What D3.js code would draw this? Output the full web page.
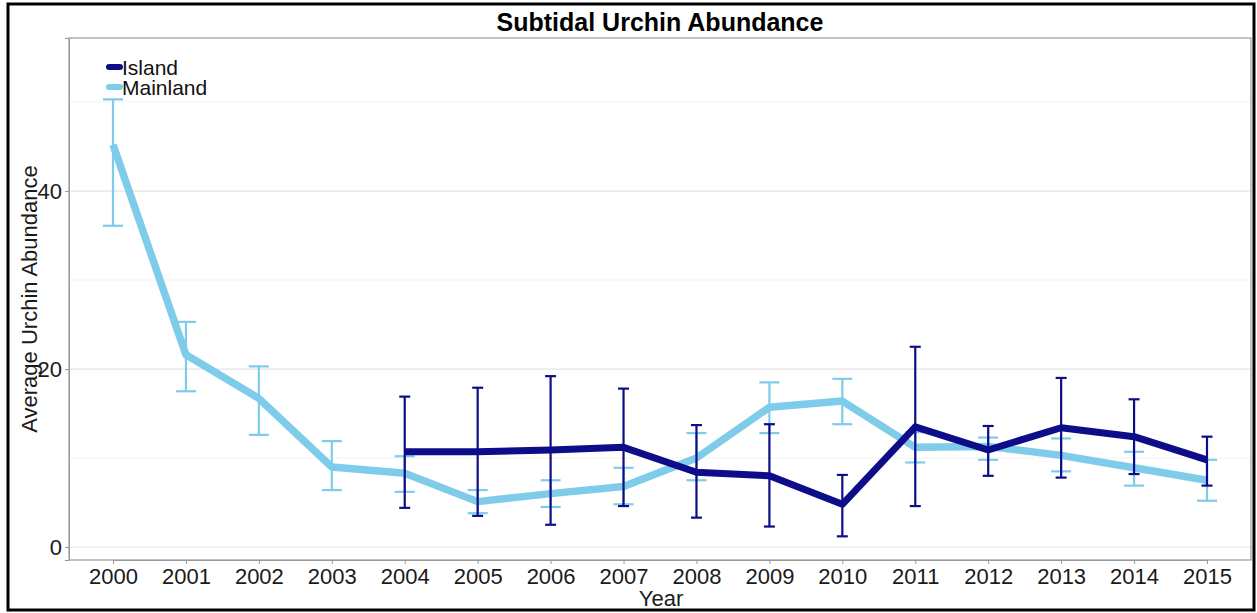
<!DOCTYPE html>
<html>
<head>
<meta charset="utf-8">
<script src="https://cdn.jsdelivr.net/npm/d3@7"></script>
<style>
  body { margin: 0; background: #fff; }
  svg { display: block; font-family: Arial, "Liberation Sans", sans-serif; }
</style>
</head>
<body>
<svg width="1257" height="613"></svg>
<script>
// data
var years = [2000, 2001, 2002, 2003, 2004, 2005, 2006, 2007, 2008, 2009, 2010, 2011, 2012, 2013, 2014, 2015];
var islandYears = [2004, 2005, 2006, 2007, 2008, 2009, 2010, 2011, 2012, 2013, 2014, 2015];
var islandMean  = [10.7, 10.7, 10.9, 11.2, 8.4, 8.0, 4.8, 13.5, 10.9, 13.4, 12.4, 9.8];
var islandLow   = [4.4, 3.5, 2.5, 4.6, 3.3, 2.3, 1.2, 4.6, 8.0, 7.8, 8.2, 6.9];
var islandHigh  = [16.9, 17.9, 19.2, 17.8, 13.7, 13.8, 8.1, 22.5, 13.6, 19.0, 16.6, 12.4];
var mainlandMean = [45.2, 21.6, 16.7, 9.0, 8.3, 5.1, 6.0, 6.8, 10.0, 15.7, 16.4, 11.2, 11.3, 10.3, 8.9, 7.5];
var mainlandLow  = [36.1, 17.5, 12.6, 6.4, 6.2, 3.8, 4.5, 4.8, 7.5, 12.8, 13.8, 9.5, 9.8, 8.5, 6.9, 5.2];
var mainlandHigh = [50.3, 25.3, 20.3, 11.9, 10.2, 6.4, 7.5, 8.9, 12.8, 18.5, 18.9, 12.9, 12.3, 12.2, 10.7, 9.8];
var yTicks = [0, 20, 40];
var yMinor = [10, 30, 50];

var islandColor = '#0d0d8a';
var mainlandColor = '#7fcbea';

var svg = d3.select('svg');

var pLeft = 69, pRight = 1251, pTop = 38, pBottom = 560;

var x = d3.scalePoint().domain(years).range([113, 1207]);
var y = d3.scaleLinear().domain([-1.46, 57.2]).range([pBottom, pTop]);

// outer frame
svg.append('rect')
  .attr('x', 8).attr('y', 4).attr('width', 1246).attr('height', 606)
  .attr('fill', 'none').attr('stroke', '#000').attr('stroke-width', 3);

// gridlines
svg.selectAll('.minor').data(yMinor).enter().append('line')
  .attr('x1', pLeft).attr('x2', pRight)
  .attr('y1', d => y(d)).attr('y2', d => y(d))
  .attr('stroke', '#f3f3f3').attr('stroke-width', 1);
svg.selectAll('.major').data(yTicks).enter().append('line')
  .attr('x1', pLeft).attr('x2', pRight)
  .attr('y1', d => y(d)).attr('y2', d => y(d))
  .attr('stroke', '#e4e4e4').attr('stroke-width', 1.2);

// panel border
svg.append('rect')
  .attr('x', pLeft).attr('y', pTop).attr('width', pRight - pLeft).attr('height', pBottom - pTop)
  .attr('fill', 'none').attr('stroke', '#9a9a9a').attr('stroke-width', 1.2);

// axes
var xAxis = svg.append('g').attr('transform', 'translate(0,' + pBottom + ')')
  .call(d3.axisBottom(x).tickSize(4).tickPadding(4));
var yAxis = svg.append('g').attr('transform', 'translate(' + pLeft + ',0)')
  .call(d3.axisLeft(y).tickValues(yTicks).tickSize(4).tickPadding(3));
[xAxis, yAxis].forEach(function(a) {
  a.select('.domain').attr('stroke', '#9a9a9a');
  a.selectAll('.tick line').attr('stroke', '#9a9a9a');
  a.selectAll('.tick text').attr('fill', '#1a1a1a').style('font-size', '22px')
    .style('font-family', 'Arial, "Liberation Sans", sans-serif');
});

// lines
var island = islandYears.map((yr, i) => ({yr: yr, m: islandMean[i], lo: islandLow[i], hi: islandHigh[i]}));
var mainland = years.map((yr, i) => ({yr: yr, m: mainlandMean[i], lo: mainlandLow[i], hi: mainlandHigh[i]}));

var line = d3.line().x(d => x(d.yr)).y(d => y(d.m));

function errorBars(data, color, capW) {
  var g = svg.append('g').attr('stroke', color).attr('stroke-width', 2.2).attr('fill', 'none');
  g.selectAll('.v').data(data).enter().append('line')
    .attr('x1', d => x(d.yr)).attr('x2', d => x(d.yr))
    .attr('y1', d => y(d.lo)).attr('y2', d => y(d.hi));
  g.selectAll('.lo').data(data).enter().append('line')
    .attr('x1', d => x(d.yr) - capW).attr('x2', d => x(d.yr) + capW)
    .attr('y1', d => y(d.lo)).attr('y2', d => y(d.lo));
  g.selectAll('.hi').data(data).enter().append('line')
    .attr('x1', d => x(d.yr) - capW).attr('x2', d => x(d.yr) + capW)
    .attr('y1', d => y(d.hi)).attr('y2', d => y(d.hi));
}

svg.append('path').datum(mainland).attr('d', line)
  .attr('fill', 'none').attr('stroke', mainlandColor).attr('stroke-width', 7.5)
  .attr('stroke-linejoin', 'round');
errorBars(mainland, mainlandColor, 10);

svg.append('path').datum(island).attr('d', line)
  .attr('fill', 'none').attr('stroke', islandColor).attr('stroke-width', 7)
  .attr('stroke-linejoin', 'round');
errorBars(island, islandColor, 5.5);

// legend
var legend = [{name: 'Island', c: islandColor}, {name: 'Mainland', c: mainlandColor}];
var lg = svg.selectAll('.lg').data(legend).enter().append('g')
  .attr('transform', (d, i) => 'translate(108,' + (67 + i * 20) + ')');
lg.append('line').attr('x1', 1).attr('x2', 12).attr('y1', 0).attr('y2', 0)
  .attr('stroke', d => d.c).attr('stroke-width', 6).attr('stroke-linecap', 'round');
lg.append('text').attr('x', 14).attr('y', 7.5).text(d => d.name)
  .style('font-size', '21px').attr('fill', '#111');

// title and axis titles
svg.append('text').attr('x', 660).attr('y', 31).attr('text-anchor', 'middle')
  .style('font-size', '25px').style('font-weight', 'bold').text('Subtidal Urchin Abundance');
svg.append('text').attr('x', 661).attr('y', 606).attr('text-anchor', 'middle')
  .style('font-size', '22px').attr('fill', '#1a1a1a').text('Year');
svg.append('text').attr('transform', 'translate(37,' + ((pTop + pBottom) / 2) + ') rotate(-90)')
  .attr('text-anchor', 'middle').style('font-size', '22px').attr('fill', '#1a1a1a')
  .text('Average Urchin Abundance');
</script>
</body>
</html>
